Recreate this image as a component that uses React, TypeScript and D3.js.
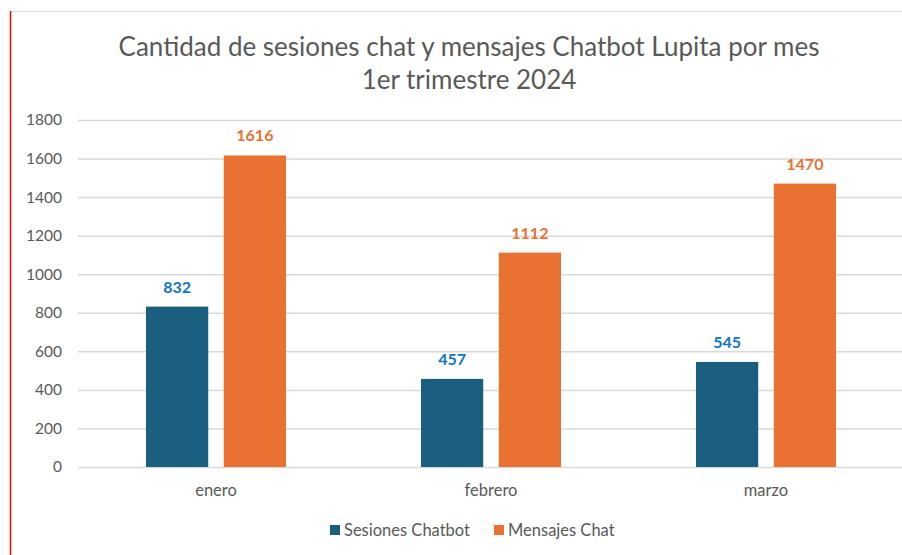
import React, { useEffect, useRef } from 'react';
import * as d3 from 'd3';

const months = ['enero', 'febrero', 'marzo'];
const sesiones = [832, 457, 545];
const mensajes = [1616, 1112, 1470];
const yTicks = [0, 200, 400, 600, 800, 1000, 1200, 1400, 1600, 1800];
const seriesNames = ['Sesiones Chatbot', 'Mensajes Chat'];

const W = 902;
const H = 555;
const BLUE = '#1A5F80';
const ORANGE = '#E97132';
const LABEL_BLUE = '#0F75C4';
const GRAY = '#595959';
const FONT = 'Lato, "Open Sans", sans-serif';

const App = () => {
  const svgRef = useRef<SVGSVGElement>(null);

  useEffect(() => {
    const svg = d3.select(svgRef.current);
    svg.selectAll('*').remove();

    // frame: gray top border and red left edge
    svg.append('line').attr('x1', 11).attr('x2', W).attr('y1', 11.5).attr('y2', 11.5)
      .attr('stroke', '#d9d9d9').attr('stroke-width', 1);
    svg.append('line').attr('x1', 10.5).attr('x2', 10.5).attr('y1', 11).attr('y2', H)
      .attr('stroke', '#ff0000').attr('stroke-width', 1.5);

    // title
    const title = svg.append('text').attr('text-anchor', 'middle')
      .attr('font-family', FONT).attr('font-size', 26).attr('fill', GRAY);
    title.append('tspan').attr('x', 469).attr('y', 56)
      .text('Cantidad de sesiones chat y mensajes Chatbot Lupita por mes');
    title.append('tspan').attr('x', 469).attr('y', 89).text('1er trimestre 2024');

    const x = d3.scaleBand().domain(months).range([78.5, 903.5]);
    const y = d3.scaleLinear().domain([0, 1800]).range([467, 120]);
    const inner = d3.scaleBand().domain(seriesNames).range([67.5, 207.5]).paddingInner(0.2);

    // grid + y labels
    const yAxis = svg.append('g').attr('transform', 'translate(78,0)')
      .call(d3.axisLeft(y).tickValues(yTicks).tickFormat(d3.format('d')).tickSize(-(W - 78)).tickPadding(16));
    yAxis.select('.domain').remove();
    yAxis.selectAll('.tick line').attr('stroke', '#d9d9d9').attr('stroke-width', 1.5);
    yAxis.selectAll('.tick text').attr('fill', GRAY).attr('font-size', 15.5)
      .attr('font-family', FONT);

    // x labels
    const xAxis = svg.append('g').attr('transform', 'translate(0,467)')
      .call(d3.axisBottom(x).tickSize(0).tickPadding(17));
    xAxis.select('.domain').remove();
    xAxis.selectAll('.tick text').attr('fill', GRAY).attr('font-size', 16.5)
      .attr('font-family', FONT);

    const series = [
      { name: seriesNames[0], values: sesiones, color: BLUE, label: LABEL_BLUE },
      { name: seriesNames[1], values: mensajes, color: ORANGE, label: ORANGE },
    ];

    series.forEach((s) => {
      const g = svg.append('g');
      g.selectAll('rect').data(s.values).join('rect')
        .attr('x', (d, i) => (x(months[i]) as number) + (inner(s.name) as number))
        .attr('y', (d) => y(d))
        .attr('width', inner.bandwidth())
        .attr('height', (d) => y(0) - y(d))
        .attr('fill', s.color);
      g.selectAll('text').data(s.values).join('text')
        .attr('x', (d, i) => (x(months[i]) as number) + (inner(s.name) as number) + inner.bandwidth() / 2)
        .attr('y', (d) => y(d) - 14)
        .attr('text-anchor', 'middle')
        .attr('font-family', FONT).attr('font-weight', 'bold').attr('font-size', 16)
        .attr('fill', s.label)
        .text((d) => d);
    });

    // legend
    const legendX = [330, 494];
    series.forEach((s, i) => {
      const lg = svg.append('g').attr('transform', `translate(${legendX[i]},525)`);
      lg.append('rect').attr('width', 10).attr('height', 10).attr('fill', s.color);
      lg.append('text').attr('x', 14).attr('y', 11).attr('font-family', FONT)
        .attr('font-size', 16.5).attr('fill', GRAY).text(s.name);
    });
  }, []);

  return (
    <svg ref={svgRef} width={W} height={H}
      style={{ position: 'fixed', left: 0, top: 0, background: '#fff' }} />
  );
};

export default App;
